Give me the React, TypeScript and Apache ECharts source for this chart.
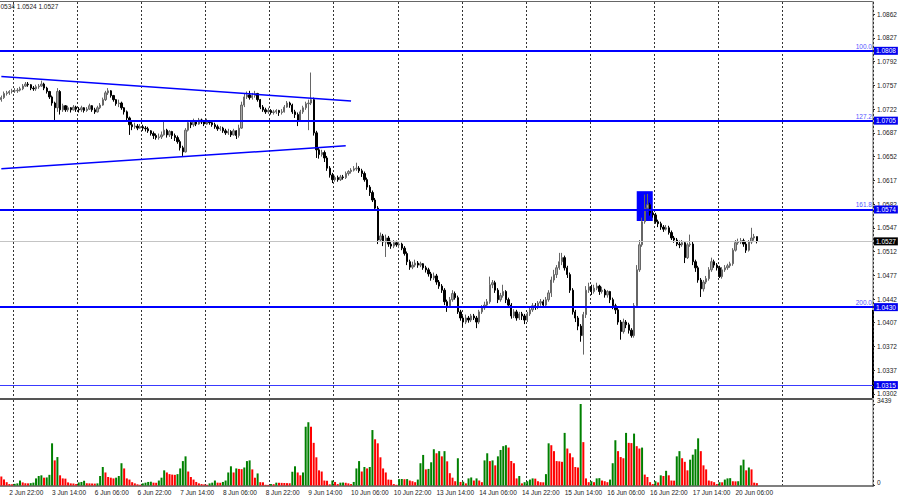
import React, { useEffect, useRef } from 'react';
import * as echarts from 'echarts';

const FONT = 'Liberation Sans';

const days = ['2 Jun', '3 Jun', '6 Jun', '7 Jun', '8 Jun', '9 Jun', '10 Jun', '13 Jun', '14 Jun', '15 Jun', '16 Jun', '17 Jun', '20 Jun', '21 Jun', '22 Jun'];
const firstHour = 19;
const slotCount = 327;
const gridDays = ['3 Jun', '6 Jun', '7 Jun', '8 Jun', '9 Jun', '10 Jun', '13 Jun', '14 Jun', '15 Jun', '16 Jun', '17 Jun', '20 Jun', '21 Jun'];
const timeLabels = ['2 Jun 22:00', '3 Jun 14:00', '6 Jun 06:00', '6 Jun 22:00', '7 Jun 14:00', '8 Jun 06:00', '8 Jun 22:00', '9 Jun 14:00', '10 Jun 06:00', '10 Jun 22:00', '13 Jun 14:00', '14 Jun 06:00', '14 Jun 22:00', '15 Jun 14:00', '16 Jun 06:00', '16 Jun 22:00', '17 Jun 14:00', '20 Jun 06:00'];

const firstOpen = 1.0736;
const closes = [
  1.0739, 1.0745, 1.0746, 1.0748, 1.0749, 1.0749, 1.0750, 1.0752, 1.0756, 1.0759,
  1.0758, 1.0753, 1.0752, 1.0755, 1.0756, 1.0759, 1.0753, 1.0748, 1.0740, 1.0731,
  1.0724, 1.0748, 1.0721, 1.0727, 1.0721, 1.0724, 1.0721, 1.0725, 1.0722, 1.0721,
  1.0724, 1.0720, 1.0722, 1.0727, 1.0721, 1.0718, 1.0724, 1.0728, 1.0736, 1.0746,
  1.0749, 1.0742, 1.0736, 1.0730, 1.0731, 1.0724, 1.0718, 1.0709, 1.0699, 1.0696,
  1.0697, 1.0694, 1.0696, 1.0694, 1.0693, 1.0690, 1.0686, 1.0683, 1.0680, 1.0681,
  1.0684, 1.0691, 1.0684, 1.0689, 1.0683, 1.0680, 1.0674, 1.0665, 1.0659, 1.0691,
  1.0702, 1.0699, 1.0705, 1.0700, 1.0706, 1.0703, 1.0700, 1.0705, 1.0702, 1.0699,
  1.0696, 1.0693, 1.0694, 1.0690, 1.0687, 1.0689, 1.0684, 1.0690, 1.0683, 1.0694,
  1.0728, 1.0740, 1.0743, 1.0739, 1.0742, 1.0745, 1.0736, 1.0725, 1.0721, 1.0718,
  1.0720, 1.0717, 1.0718, 1.0720, 1.0717, 1.0718, 1.0725, 1.0731, 1.0728, 1.0718,
  1.0714, 1.0706, 1.0718, 1.0724, 1.0730, 1.0731, 1.0736, 1.0687, 1.0662, 1.0655,
  1.0658, 1.0650, 1.0635, 1.0625, 1.0618, 1.0621, 1.0618, 1.0622, 1.0621, 1.0627,
  1.0630, 1.0632, 1.0634, 1.0635, 1.0631, 1.0627, 1.0618, 1.0607, 1.0599, 1.0588,
  1.0576, 1.0529, 1.0535, 1.0526, 1.0532, 1.0523, 1.0520, 1.0525, 1.0522, 1.0523,
  1.0517, 1.0509, 1.0497, 1.0489, 1.0492, 1.0495, 1.0492, 1.0494, 1.0488, 1.0485,
  1.0479, 1.0473, 1.0476, 1.0467, 1.0461, 1.0455, 1.0438, 1.0432, 1.0441, 1.0450,
  1.0444, 1.0423, 1.0414, 1.0408, 1.0414, 1.0411, 1.0417, 1.0414, 1.0408, 1.0423,
  1.0429, 1.0433, 1.0438, 1.0463, 1.0466, 1.0455, 1.0441, 1.0447, 1.0453, 1.0441,
  1.0433, 1.0417, 1.0423, 1.0414, 1.0420, 1.0417, 1.0411, 1.0420, 1.0426, 1.0432,
  1.0430, 1.0436, 1.0438, 1.0433, 1.0441, 1.0451, 1.0470, 1.0478, 1.0488, 1.0497,
  1.0503, 1.0488, 1.0478, 1.0455, 1.0423, 1.0414, 1.0402, 1.0388, 1.0419, 1.0455,
  1.0460, 1.0453, 1.0458, 1.0461, 1.0453, 1.0455, 1.0448, 1.0453, 1.0441, 1.0432,
  1.0426, 1.0408, 1.0394, 1.0408, 1.0404, 1.0396, 1.0388, 1.0432, 1.0485, 1.0522,
  1.0556, 1.0576, 1.0581, 1.0569, 1.0566, 1.0556, 1.0553, 1.0548, 1.0545, 1.0547,
  1.0540, 1.0532, 1.0529, 1.0523, 1.0522, 1.0525, 1.0503, 1.0522, 1.0523, 1.0497,
  1.0488, 1.0470, 1.0457, 1.0467, 1.0472, 1.0485, 1.0497, 1.0492, 1.0488, 1.0475,
  1.0485, 1.0488, 1.0491, 1.0494, 1.0514, 1.0525, 1.0526, 1.0528, 1.0523, 1.0514,
  1.0526, 1.0532, 1.0534, 1.0527,
];
const highs = [
  1.0742, 1.0748, 1.0749, 1.0750, 1.0752, 1.0753, 1.0753, 1.0755, 1.0759, 1.0762,
  1.0762, 1.0759, 1.0756, 1.0758, 1.0759, 1.0764, 1.0761, 1.0755, 1.0749, 1.0742,
  1.0733, 1.0753, 1.0750, 1.0730, 1.0728, 1.0727, 1.0725, 1.0728, 1.0727, 1.0725,
  1.0727, 1.0725, 1.0725, 1.0730, 1.0728, 1.0724, 1.0727, 1.0731, 1.0739, 1.0749,
  1.0753, 1.0750, 1.0743, 1.0737, 1.0736, 1.0733, 1.0725, 1.0720, 1.0711, 1.0703,
  1.0702, 1.0700, 1.0700, 1.0699, 1.0697, 1.0696, 1.0691, 1.0689, 1.0686, 1.0686,
  1.0689, 1.0703, 1.0693, 1.0691, 1.0690, 1.0686, 1.0683, 1.0677, 1.0668, 1.0694,
  1.0706, 1.0705, 1.0708, 1.0706, 1.0709, 1.0708, 1.0706, 1.0708, 1.0706, 1.0705,
  1.0702, 1.0699, 1.0697, 1.0696, 1.0693, 1.0693, 1.0691, 1.0693, 1.0691, 1.0699,
  1.0733, 1.0745, 1.0748, 1.0749, 1.0746, 1.0749, 1.0746, 1.0737, 1.0728, 1.0724,
  1.0724, 1.0722, 1.0721, 1.0722, 1.0721, 1.0722, 1.0728, 1.0734, 1.0733, 1.0730,
  1.0721, 1.0717, 1.0721, 1.0727, 1.0733, 1.0736, 1.0776, 1.0739, 1.0690, 1.0665,
  1.0662, 1.0661, 1.0653, 1.0638, 1.0628, 1.0624, 1.0624, 1.0625, 1.0625, 1.0630,
  1.0632, 1.0635, 1.0638, 1.0643, 1.0638, 1.0634, 1.0630, 1.0621, 1.0610, 1.0602,
  1.0591, 1.0579, 1.0540, 1.0538, 1.0537, 1.0535, 1.0528, 1.0529, 1.0528, 1.0526,
  1.0525, 1.0520, 1.0512, 1.0500, 1.0497, 1.0500, 1.0498, 1.0497, 1.0495, 1.0491,
  1.0488, 1.0482, 1.0481, 1.0479, 1.0470, 1.0464, 1.0458, 1.0441, 1.0445, 1.0455,
  1.0453, 1.0447, 1.0426, 1.0417, 1.0419, 1.0417, 1.0420, 1.0420, 1.0417, 1.0426,
  1.0433, 1.0438, 1.0442, 1.0475, 1.0470, 1.0469, 1.0458, 1.0451, 1.0463, 1.0455,
  1.0444, 1.0436, 1.0427, 1.0426, 1.0423, 1.0423, 1.0420, 1.0423, 1.0430, 1.0436,
  1.0436, 1.0439, 1.0442, 1.0441, 1.0445, 1.0455, 1.0475, 1.0485, 1.0492, 1.0510,
  1.0510, 1.0506, 1.0491, 1.0481, 1.0458, 1.0426, 1.0417, 1.0405, 1.0423, 1.0461,
  1.0466, 1.0463, 1.0463, 1.0466, 1.0463, 1.0460, 1.0457, 1.0455, 1.0454, 1.0444,
  1.0435, 1.0429, 1.0411, 1.0413, 1.0411, 1.0407, 1.0399, 1.0436, 1.0492, 1.0529,
  1.0562, 1.0596, 1.0597, 1.0584, 1.0573, 1.0569, 1.0559, 1.0556, 1.0551, 1.0551,
  1.0550, 1.0543, 1.0535, 1.0532, 1.0528, 1.0529, 1.0526, 1.0525, 1.0537, 1.0526,
  1.0500, 1.0491, 1.0473, 1.0470, 1.0476, 1.0489, 1.0503, 1.0500, 1.0495, 1.0491,
  1.0489, 1.0492, 1.0494, 1.0497, 1.0517, 1.0529, 1.0531, 1.0532, 1.0531, 1.0526,
  1.0529, 1.0547, 1.0538, 1.0534,
];
const lows = [
  1.0733, 1.0737, 1.0742, 1.0743, 1.0745, 1.0746, 1.0746, 1.0748, 1.0750, 1.0755,
  1.0755, 1.0750, 1.0749, 1.0749, 1.0752, 1.0755, 1.0750, 1.0745, 1.0737, 1.0727,
  1.0706, 1.0718, 1.0714, 1.0718, 1.0718, 1.0718, 1.0717, 1.0720, 1.0718, 1.0717,
  1.0718, 1.0717, 1.0718, 1.0721, 1.0718, 1.0715, 1.0717, 1.0722, 1.0727, 1.0734,
  1.0743, 1.0739, 1.0733, 1.0727, 1.0725, 1.0721, 1.0714, 1.0705, 1.0684, 1.0691,
  1.0693, 1.0691, 1.0693, 1.0690, 1.0689, 1.0687, 1.0683, 1.0678, 1.0677, 1.0677,
  1.0678, 1.0683, 1.0680, 1.0681, 1.0678, 1.0675, 1.0671, 1.0661, 1.0653, 1.0658,
  1.0689, 1.0694, 1.0696, 1.0697, 1.0699, 1.0700, 1.0697, 1.0699, 1.0699, 1.0696,
  1.0693, 1.0690, 1.0690, 1.0687, 1.0684, 1.0684, 1.0681, 1.0683, 1.0678, 1.0680,
  1.0693, 1.0725, 1.0737, 1.0736, 1.0736, 1.0739, 1.0733, 1.0722, 1.0718, 1.0715,
  1.0715, 1.0714, 1.0714, 1.0715, 1.0712, 1.0714, 1.0717, 1.0724, 1.0724, 1.0715,
  1.0709, 1.0697, 1.0703, 1.0715, 1.0721, 1.0691, 1.0728, 1.0683, 1.0650, 1.0649,
  1.0652, 1.0644, 1.0631, 1.0621, 1.0613, 1.0615, 1.0615, 1.0616, 1.0618, 1.0619,
  1.0624, 1.0627, 1.0630, 1.0631, 1.0628, 1.0622, 1.0615, 1.0603, 1.0594, 1.0585,
  1.0572, 1.0523, 1.0526, 1.0520, 1.0504, 1.0519, 1.0516, 1.0517, 1.0519, 1.0517,
  1.0514, 1.0506, 1.0492, 1.0485, 1.0486, 1.0489, 1.0488, 1.0489, 1.0485, 1.0481,
  1.0475, 1.0469, 1.0470, 1.0463, 1.0457, 1.0451, 1.0433, 1.0423, 1.0429, 1.0438,
  1.0441, 1.0420, 1.0410, 1.0401, 1.0405, 1.0407, 1.0408, 1.0411, 1.0399, 1.0405,
  1.0420, 1.0426, 1.0430, 1.0435, 1.0458, 1.0451, 1.0436, 1.0438, 1.0444, 1.0436,
  1.0429, 1.0413, 1.0414, 1.0410, 1.0411, 1.0411, 1.0405, 1.0408, 1.0417, 1.0423,
  1.0426, 1.0427, 1.0432, 1.0430, 1.0430, 1.0438, 1.0445, 1.0466, 1.0473, 1.0485,
  1.0492, 1.0484, 1.0473, 1.0451, 1.0419, 1.0408, 1.0396, 1.0379, 1.0360, 1.0414,
  1.0451, 1.0448, 1.0450, 1.0455, 1.0448, 1.0450, 1.0444, 1.0444, 1.0436, 1.0427,
  1.0420, 1.0404, 1.0382, 1.0391, 1.0399, 1.0391, 1.0385, 1.0385, 1.0429, 1.0482,
  1.0519, 1.0553, 1.0571, 1.0565, 1.0562, 1.0553, 1.0548, 1.0544, 1.0541, 1.0543,
  1.0537, 1.0529, 1.0525, 1.0520, 1.0517, 1.0519, 1.0495, 1.0501, 1.0519, 1.0492,
  1.0482, 1.0466, 1.0445, 1.0453, 1.0464, 1.0469, 1.0482, 1.0488, 1.0484, 1.0473,
  1.0472, 1.0482, 1.0485, 1.0488, 1.0491, 1.0512, 1.0522, 1.0523, 1.0519, 1.0510,
  1.0512, 1.0523, 1.0528, 1.0524,
];
const volumes = [
  380, 255, 140, 60, 50, 70, 90, 210, 130, 95,
  90, 100, 120, 300, 400, 430, 330, 340, 450, 1780,
  1060, 1200, 430, 300, 290, 130, 90, 85, 60, 130,
  150, 200, 95, 90, 85, 80, 90, 400, 780, 550,
  360, 330, 300, 330, 400, 940, 720, 300, 250, 140,
  90, 50, 30, 90, 120, 150, 160, 120, 115, 210,
  330, 640, 550, 480, 460, 450, 480, 720, 1030, 1230,
  590, 360, 250, 150, 90, 60, 45, 30, 90, 120,
  210, 120, 115, 150, 210, 550, 810, 550, 720, 700,
  690, 760, 1030, 1060, 680, 330, 510, 140, 135, 30,
  25, 60, 55, 120, 115, 110, 105, 100, 95, 580,
  810, 550, 430, 550, 2480, 2670, 2480, 1800, 1190, 640,
  590, 210, 200, 50, 210, 150, 60, 120, 125, 115,
  90, 60, 150, 720, 1030, 590, 780, 720, 780, 2340,
  1950, 1780, 1190, 720, 550, 250, 240, 60, 30, 270,
  275, 265, 270, 210, 180, 140, 250, 940, 1290, 680,
  700, 980, 1530, 1360, 1450, 1230, 1450, 1020,
  520, 330, 180, 1150, 150, 160, 90, 300, 340, 210,
  300, 210, 140, 1060, 1360, 1030, 1060, 850, 1230, 1500,
  1660, 1700, 1600, 1030, 940, 300, 400, 90, 140, 180,
  250, 300, 290, 180, 140, 135, 480, 1780, 1700, 1450,
  1030, 1020, 1000, 2220, 1560, 1360, 1190, 780, 760, 3439,
  1830, 300, 140, 180, 140, 300, 310, 210, 180, 140,
  250, 940, 1910, 1450, 1200, 1150, 2220, 1800, 1790, 2190,
  1660, 1560, 1600, 460, 360, 140, 60, 180, 130, 430,
  400, 620, 430, 210, 205, 1230, 1450, 1150, 1000, 640,
  1090, 1300, 1530, 1990, 1450, 850, 680, 210, 180, 140,
  60, 140, 135, 250, 300, 310, 180, 175, 180, 850,
  1090, 640, 760, 680, 120, 100,
];

const priceTicks = [1.0302, 1.0337, 1.0372, 1.0407, 1.0442, 1.0477, 1.0512, 1.0547, 1.0582, 1.0617, 1.0652, 1.0687, 1.0722, 1.0757, 1.0792, 1.0827, 1.0862];
const volumeTicks = [0, 3439];
const fibLevels = [1.0808, 1.0705, 1.0574, 1.043];
const fibTags = ['100.0', '127.2', '161.8', '200.0'];
const supportLevel = 1.0315;
const lastPrice = 1.0527;
const headerText = '0534 1.0524 1.0527';
const upperTrend: [number, number][] = [[0, 1.077], [131, 1.0734]];
const lowerTrend: [number, number][] = [[0, 1.0634], [129, 1.0668]];
const zoneBars = [238, 244];
const zonePrices = [1.0601, 1.0557];

const categories: string[] = [];
days.forEach((d, di) => {
  for (let h = di === 0 ? firstHour : 0; h < 24; h++) {
    if (categories.length < slotCount) categories.push(`${d} ${String(h).padStart(2, '0')}:00`);
  }
});
const gridSet = new Set(gridDays.map((d) => `${d} 00:00`));
const labelSet = new Set(timeLabels);

const candleData = closes.map((c, i) => {
  const o = i === 0 ? firstOpen : closes[i - 1];
  return [o, c, Math.min(lows[i], o, c), Math.max(highs[i], o, c)];
});
const volumeData = volumes.map((v, i) => ({
  value: v,
  itemStyle: { color: i > 0 && v > volumes[i - 1] ? '#008000' : '#ff0000' },
}));

const boxLabel = (text: string, bg: string) => ({
  show: true,
  position: 'end',
  distance: 1,
  formatter: text,
  color: '#fff',
  backgroundColor: bg,
  padding: [1, 2, 0, 2],
  fontSize: 6.5,
  lineHeight: 7,
  fontFamily: FONT,
});

const splitLineStyle = {
  show: true,
  interval: (_i: number, v: string) => gridSet.has(v),
  lineStyle: { color: '#333', type: [2, 2], width: 1 },
};

export default function App() {
  const ref = useRef<HTMLDivElement>(null);
  useEffect(() => {
    const chart = echarts.init(ref.current as HTMLDivElement, null, { renderer: 'svg' });
    const markLineData: any[] = [];
    fibLevels.forEach((p, k) => {
      markLineData.push({
        yAxis: p,
        lineStyle: { color: 'rgba(0,0,0,0)', width: 1, type: 'solid' },
        label: { show: true, position: 'insideEndTop', distance: 1, formatter: fibTags[k], color: '#5555ff', fontSize: 6.5, fontFamily: FONT },
      });
      markLineData.push({
        yAxis: p,
        lineStyle: { color: '#0000ff', width: 2, type: 'solid' },
        label: boxLabel(p.toFixed(4), '#0000ee'),
      });
    });
    markLineData.push({
      yAxis: supportLevel,
      lineStyle: { color: '#3a3aff', width: 1, type: 'solid' },
      label: boxLabel(supportLevel.toFixed(4), '#0000ee'),
    });
    markLineData.push({
      yAxis: lastPrice,
      lineStyle: { color: '#c4c4c4', width: 1, type: 'solid' },
      label: boxLabel(lastPrice.toFixed(4), '#000000'),
    });
    [upperTrend, lowerTrend].forEach((t) => {
      markLineData.push([
        { coord: [categories[t[0][0]], t[0][1]], lineStyle: { color: '#0000ff', width: 1.5, type: 'solid' }, label: { show: false } },
        { coord: [categories[t[1][0]], t[1][1]] },
      ]);
    });

    const option: any = {
      animation: false,
      backgroundColor: '#ffffff',
      textStyle: { fontFamily: FONT },
      grid: [
        { left: 0, top: 2, width: 873, height: 396 },
        { left: 0, top: 400, width: 873, height: 85.5 },
      ],
      xAxis: [
        {
          type: 'category', gridIndex: 0, data: categories, boundaryGap: true,
          axisLine: { show: false }, axisTick: { show: false }, axisLabel: { show: false },
          splitLine: splitLineStyle,
        },
        {
          type: 'category', gridIndex: 1, data: categories, boundaryGap: true,
          axisLine: { show: true, lineStyle: { color: '#555', width: 1.5 } },
          axisTick: { show: false },
          axisLabel: {
            interval: (_i: number, v: string) => labelSet.has(v),
            align: 'left', fontSize: 6.5, color: '#222', margin: 3, fontFamily: FONT,
          },
          splitLine: splitLineStyle,
        },
      ],
      yAxis: [
        {
          type: 'value', gridIndex: 0, position: 'right', min: 1.0296, max: 1.088,
          axisLine: { show: false },
          axisTick: { show: true, customValues: priceTicks, length: 2, lineStyle: { color: '#333' } },
          axisLabel: { customValues: priceTicks, formatter: (v: number) => v.toFixed(4), fontSize: 6.5, color: '#222', margin: 4, fontFamily: FONT },
          splitLine: { show: false },
        },
        {
          type: 'value', gridIndex: 1, position: 'right', min: 0, max: 3608,
          axisLine: { show: false },
          axisTick: { show: true, customValues: volumeTicks, length: 2, lineStyle: { color: '#333' } },
          axisLabel: { customValues: volumeTicks, formatter: (v: number) => String(v), fontSize: 6.5, color: '#222', margin: 4, fontFamily: FONT, verticalAlign: 'bottom' },
          splitLine: { show: false },
        },
      ],
      series: [
        {
          type: 'candlestick', xAxisIndex: 0, yAxisIndex: 0, data: candleData, barWidth: 1.8,
          itemStyle: { color: '#a6a6a6', color0: '#000000', borderColor: '#666666', borderColor0: '#000000', borderWidth: 1 },
          markArea: {
            silent: true,
            precision: 4,
            itemStyle: { color: '#0000ff', opacity: 1 },
            data: [[
              { coord: [categories[zoneBars[0]], zonePrices[0]] },
              { coord: [categories[zoneBars[1]], zonePrices[1]] },
            ]],
          },
          markLine: { silent: true, precision: 4, symbol: ['none', 'none'], animation: false, data: markLineData },
        },
        {
          type: 'bar', xAxisIndex: 1, yAxisIndex: 1, data: volumeData, barWidth: 2,
        },
      ],
      graphic: [
        { type: 'text', x: 0.5, y: 3, style: { text: headerText, fontSize: 6.5, fill: '#222', fontFamily: FONT } },
        { type: 'line', shape: { x1: 0, y1: 1.5, x2: 873, y2: 1.5 }, style: { stroke: '#666', lineWidth: 1 } },
        { type: 'line', shape: { x1: 0, y1: 399, x2: 873, y2: 399 }, style: { stroke: '#555', lineWidth: 2 } },
        { type: 'line', shape: { x1: 873, y1: 1, x2: 873, y2: 487 }, style: { stroke: '#999', lineWidth: 1.5 } },
        { type: 'line', shape: { x1: 873, y1: 310, x2: 873, y2: 398 }, style: { stroke: '#000', lineWidth: 2 } },
      ],
    };
    chart.setOption(option);
    return () => chart.dispose();
  }, []);
  return <div ref={ref} style={{ position: 'absolute', left: 0, top: 0, width: 900, height: 500, background: '#fff' }} />;
}
